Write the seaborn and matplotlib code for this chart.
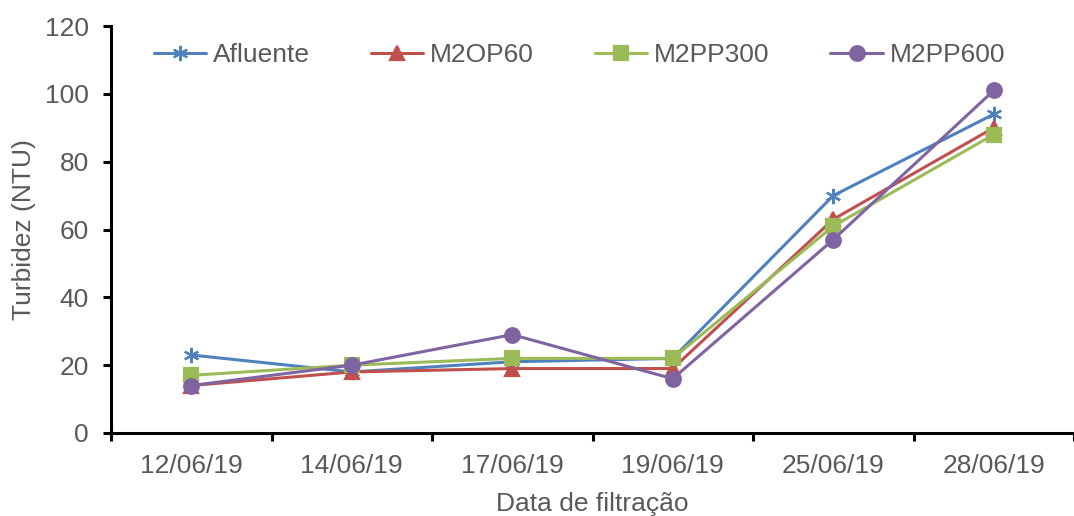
import matplotlib
matplotlib.use("Agg")
import matplotlib.pyplot as plt
from matplotlib.lines import Line2D
import seaborn as sns
import pandas as pd
import numpy as np

dates = ["12/06/19", "14/06/19", "17/06/19", "19/06/19", "25/06/19", "28/06/19"]
afluente = [23, 18, 21, 22, 70, 94]
m2op60 = [14, 18, 19, 19, 63, 90]
m2pp300 = [17, 20, 22, 22, 61, 88]
m2pp600 = [14, 20, 29, 16, 57, 101]
series_names = ["Afluente", "M2OP60", "M2PP300", "M2PP600"]
y_ticks = [0, 20, 40, 60, 80, 100, 120]

sns.set_theme(style="white")
plt.rcParams["font.family"] = ["Liberation Sans", "DejaVu Sans"]
text_color = "#595959"
fs = 19

df = pd.DataFrame({
    "Data": np.tile(np.arange(len(dates)), len(series_names)),
    "Turbidez": afluente + m2op60 + m2pp300 + m2pp600,
    "Serie": np.repeat(series_names, len(dates)),
})

palette = {"Afluente": "#4F81BD", "M2OP60": "#C0504D",
           "M2PP300": "#9BBB59", "M2PP600": "#8064A2"}
markers = {"Afluente": (6, 2, 0), "M2OP60": "^", "M2PP300": "s", "M2PP600": "o"}
msizes = {"Afluente": 11, "M2OP60": 10, "M2PP300": 10, "M2PP600": 10.5}

fig = plt.figure(figsize=(10.74, 5.16), dpi=100)
ax = fig.add_axes([111 / 1074, 1 - 433 / 516, 1 - 111 / 1074, (433 - 26) / 516])

for name in series_names:
    sub = df[df["Serie"] == name]
    c = palette[name]
    sns.lineplot(data=sub, x="Data", y="Turbidez", color=c, marker=markers[name],
                 markersize=msizes[name], markeredgewidth=1.6, markeredgecolor=c,
                 markerfacecolor=c, linewidth=2.2, ax=ax, label=name, legend=False)

ax.set_xlim(-0.5, len(dates) - 0.5)
ax.set_ylim(0, 120)
ax.set_yticks(y_ticks)
ax.set_xticks(range(len(dates)))
ax.set_xticklabels(dates)
ax.set_xticks(np.arange(-0.5, len(dates), 1.0), minor=True)

for side in ["top", "right"]:
    ax.spines[side].set_visible(False)
for side in ["left", "bottom"]:
    ax.spines[side].set_color("black")
    ax.spines[side].set_linewidth(2.2)

ax.tick_params(axis="x", which="major", length=0, pad=15, labelsize=fs, labelcolor=text_color)
ax.tick_params(axis="x", which="minor", direction="out", length=6, width=2.2, color="black", bottom=True)
ax.tick_params(axis="y", which="major", direction="out", length=6, width=2.2, color="black",
               left=True, pad=10, labelsize=fs, labelcolor=text_color)

ax.set_xlabel("Data de filtração", fontsize=fs, color=text_color, labelpad=10)
ax.set_ylabel("Turbidez (NTU)", fontsize=fs, color=text_color, labelpad=6)

handles = [Line2D([], [], color=palette[n], marker=markers[n], linewidth=2.2,
                  markersize=msizes[n], markeredgewidth=1.6, markeredgecolor=palette[n],
                  markerfacecolor=palette[n]) for n in series_names]
leg = ax.legend(handles, series_names, loc="center left", bbox_to_anchor=(143 / 1074, 1 - 55 / 516),
                bbox_transform=fig.transFigure, ncol=4, frameon=False, fontsize=fs,
                handlelength=2.0, handletextpad=0.25, columnspacing=2.3, borderaxespad=0)
for t in leg.get_texts():
    t.set_color(text_color)

fig.savefig("out.png", dpi=100)
